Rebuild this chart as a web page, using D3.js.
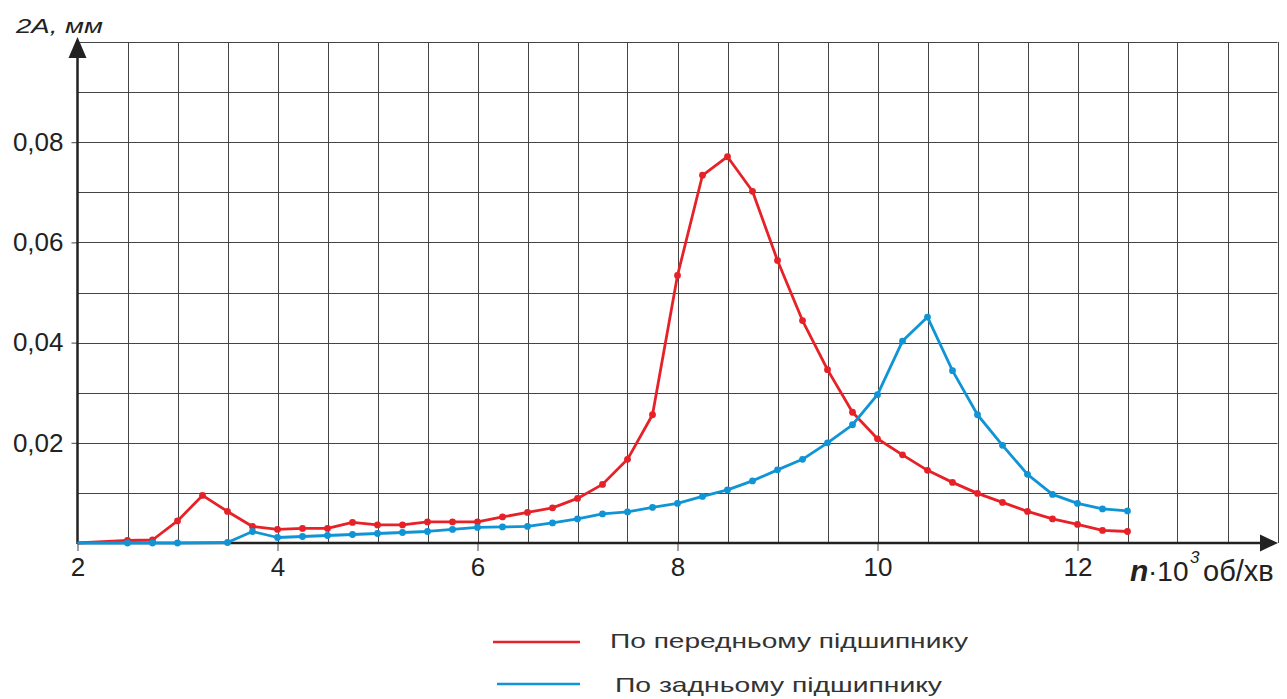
<!DOCTYPE html>
<html>
<head>
<meta charset="utf-8">
<script src="https://cdn.jsdelivr.net/npm/d3@7"></script>
<style>
    body { margin: 0; background: #fff; }
    svg { display: block; font-family: "Liberation Sans", Arial, sans-serif; }
</style>
</head>
<body>
<svg id="chart" width="1287" height="699"></svg>
<script>
// n, x10^3 rpm
const frontRpm = [2, 2.5, 2.75, 3, 3.25, 3.5, 3.75, 4, 4.25, 4.5, 4.75, 5, 5.25, 5.5, 5.75, 6, 6.25, 6.5, 6.75,
    7, 7.25, 7.5, 7.75, 8, 8.25, 8.5, 8.75, 9, 9.25, 9.5, 9.75, 10, 10.25, 10.5, 10.75, 11, 11.25, 11.5, 11.75, 12, 12.25, 12.5];
const frontAmp = [0, 0.0005, 0.0006, 0.0044, 0.0095, 0.0063, 0.0033, 0.0027, 0.0029, 0.0029, 0.0041, 0.0036, 0.0036, 0.0042, 0.0042, 0.0042, 0.0052, 0.0061, 0.007,
    0.0089, 0.0117, 0.0167, 0.0256, 0.0534, 0.0734, 0.0771, 0.0702, 0.0564, 0.0444, 0.0346, 0.0261, 0.0208, 0.0176, 0.0145, 0.0121, 0.0099, 0.0081, 0.0063, 0.0048, 0.0037, 0.0025, 0.0023];

const rearRpm = [2, 2.5, 2.75, 3, 3.5, 3.75, 4, 4.25, 4.5, 4.75, 5, 5.25, 5.5, 5.75, 6, 6.25, 6.5, 6.75,
    7, 7.25, 7.5, 7.75, 8, 8.25, 8.5, 8.75, 9, 9.25, 9.5, 9.75, 10, 10.25, 10.5, 10.75, 11, 11.25, 11.5, 11.75, 12, 12.25, 12.5];
const rearAmp = [0, 0, 0, 0, 0.0001, 0.0023, 0.0011, 0.0013, 0.0015, 0.0017, 0.0019, 0.0021, 0.0023, 0.0027, 0.0031, 0.0032, 0.0033, 0.004,
    0.0048, 0.0058, 0.0062, 0.0071, 0.0079, 0.0093, 0.0106, 0.0124, 0.0146, 0.0167, 0.02, 0.0236, 0.0296, 0.0403, 0.0451, 0.0344, 0.0256, 0.0195, 0.0137, 0.0097, 0.0079, 0.0068, 0.0064];

const xTicks = [2, 4, 6, 8, 10, 12];
const yTicks = [0.02, 0.04, 0.06, 0.08];
const xGrid = [2.5, 3, 3.5, 4, 4.5, 5, 5.5, 6, 6.5, 7, 7.5, 8, 8.5, 9, 9.5, 10, 10.5, 11, 11.5, 12, 12.5, 13, 13.5, 14];
const yGrid = [0.01, 0.02, 0.03, 0.04, 0.05, 0.06, 0.07, 0.08, 0.09, 0.1];

const seriesNames = ["По передньому підшипнику", "По задньому підшипнику"];
const seriesColors = ["#e62228", "#0f94d6"];

const svg = d3.select("#chart");
const x = d3.scaleLinear().domain([2, 14]).range([77.5, 1277.5]);
const y = d3.scaleLinear().domain([0, 0.1]).range([543, 42]);
const comma = d3.formatLocale({decimal: ",", thousands: " ", grouping: [3], currency: ["", ""]}).format(".2f");

// grid
const grid = svg.append("g").attr("stroke", "#444").attr("stroke-width", 1);
grid.selectAll(".vg").data(xGrid).join("line")
    .attr("x1", d => Math.round(x(d)) + 0.5).attr("x2", d => Math.round(x(d)) + 0.5)
    .attr("y1", y(0.1)).attr("y2", y(0));
grid.selectAll(".hg").data(yGrid).join("line")
    .attr("x1", x(2)).attr("x2", x(14))
    .attr("y1", d => Math.round(y(d)) + 0.5).attr("y2", d => Math.round(y(d)) + 0.5);

// axes (ticks + labels only; the lines with arrows are drawn below)
const xAxis = svg.append("g")
    .attr("transform", `translate(0, ${y(0)})`)
    .call(d3.axisBottom(x).tickValues(xTicks).tickSize(8).tickPadding(7).tickFormat(d3.format("d")));
const yAxis = svg.append("g")
    .attr("transform", `translate(${x(2)}, 0)`)
    .call(d3.axisLeft(y).tickValues(yTicks).tickSize(6).tickPadding(8).tickFormat(comma));
[xAxis, yAxis].forEach(a => {
    a.select(".domain").remove();
    a.selectAll(".tick line").attr("stroke", "#444");
    a.selectAll(".tick text").attr("fill", "#222").style("font-size", "26px");
});

const axisColor = "#222";
svg.append("line").attr("x1", x(2)).attr("x2", 1262).attr("y1", y(0)).attr("y2", y(0))
    .attr("stroke", axisColor).attr("stroke-width", 2.5);
svg.append("path").attr("d", "M1260,534.5 L1278,543 L1260,551.5 Z").attr("fill", axisColor);
svg.append("line").attr("x1", x(2)).attr("x2", x(2)).attr("y1", y(0) + 1).attr("y2", 56)
    .attr("stroke", axisColor).attr("stroke-width", 2.5);
svg.append("path").attr("d", `M${x(2) - 9},58 L${x(2)},37 L${x(2) + 9},58 Z`).attr("fill", axisColor);

// axis titles
svg.append("text").attr("x", 16).attr("y", 33)
    .attr("textLength", 87).attr("lengthAdjust", "spacingAndGlyphs")
    .style("font-size", "21px").style("font-style", "italic").attr("fill", "#222")
    .text("2A, мм");
const xt = svg.append("text").attr("y", 581).attr("fill", "#222").style("font-size", "28px");
xt.append("tspan").attr("x", 1130)
    .style("font-size", "30px").style("font-style", "italic").style("font-weight", "bold").text("n");
xt.append("tspan").attr("x", 1148).text("·10");
xt.append("tspan").attr("x", 1190).attr("y", 563)
    .style("font-size", "17px").style("font-style", "italic").text("3");
xt.append("tspan").attr("x", 1203).attr("y", 581)
    .style("font-size", "29px").text("об/хв");

// series
const series = [
    {rpm: frontRpm, amp: frontAmp},
    {rpm: rearRpm, amp: rearAmp}
];
const line = d3.line().x(d => x(d[0])).y(d => y(d[1]));

series.forEach((s, i) => {
    const pts = s.rpm.map((r, j) => [r, s.amp[j]]);
    const g = svg.append("g");
    g.append("path").datum(pts)
        .attr("d", line)
        .attr("fill", "none")
        .attr("stroke", seriesColors[i])
        .attr("stroke-width", 2.8)
        .attr("stroke-linejoin", "round");
    g.selectAll("circle").data(pts.slice(1)).join("circle")
        .attr("cx", d => x(d[0]))
        .attr("cy", d => y(d[1]))
        .attr("r", 3.4)
        .attr("fill", seriesColors[i]);
});

// legend
const legendLineY = [642, 684];
const legendTextY = [648, 692];
const legendTextX = [610, 615];
const legendTextW = [358, 327];
const legend = svg.selectAll(".legend").data(seriesNames).join("g")
    .attr("class", "legend");
legend.append("line")
    .attr("x1", (d, i) => i ? 497 : 493).attr("x2", 580)
    .attr("y1", (d, i) => legendLineY[i]).attr("y2", (d, i) => legendLineY[i])
    .attr("stroke", (d, i) => seriesColors[i]).attr("stroke-width", 2.5);
legend.append("text")
    .attr("x", (d, i) => legendTextX[i]).attr("y", (d, i) => legendTextY[i])
    .attr("textLength", (d, i) => legendTextW[i]).attr("lengthAdjust", "spacingAndGlyphs")
    .attr("fill", "#333").style("font-size", "21px")
    .text(d => d);
</script>
</body>
</html>
